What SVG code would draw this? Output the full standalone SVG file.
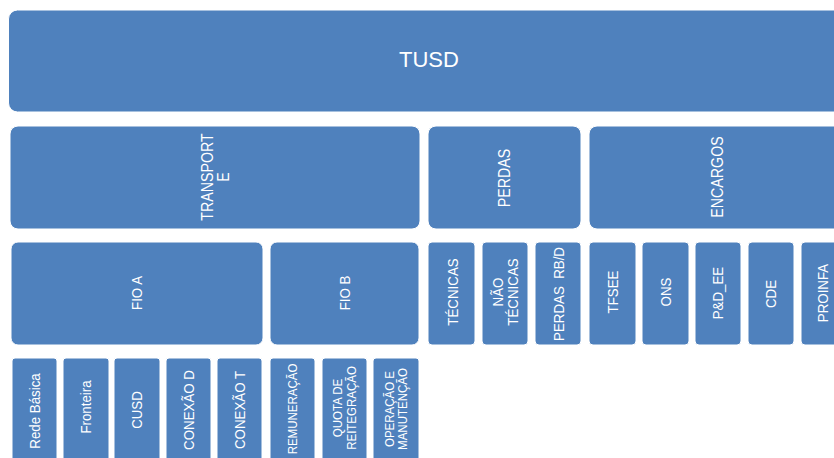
<svg xmlns="http://www.w3.org/2000/svg" width="834" height="458" viewBox="0 0 834 458">
<style>
.b{fill:#4F81BD;stroke:#ffffff;stroke-width:1}
.t{font-family:"Liberation Sans",Arial,sans-serif;fill:#ffffff;text-anchor:middle}
.l{font-size:15.8px}
.m{font-size:14.8px}
.s{font-size:12.8px}
</style>
<rect width="834" height="458" fill="#ffffff"/>
<g id="connectors"></g>
<g id="tusd"><rect class="b" x="8.5" y="10" width="841" height="102" rx="9"/><text class="t" x="429" y="67" font-size="22">TUSD</text></g>

<g id="transporte"><rect class="b" x="10" y="126" width="410" height="103" rx="8"/>
<text class="t l" transform="translate(215,177) rotate(-90) scale(0.9,1)"><tspan x="0" y="-2.5">TRANSPORT</tspan><tspan x="0" y="14">E</tspan></text></g>
<g id="perdas"><rect class="b" x="428" y="126" width="153" height="103" rx="8"/>
<text class="t l" transform="translate(504.5,178) rotate(-90) scale(0.9,1)" y="5.7">PERDAS</text></g>
<g id="encargos"><rect class="b" x="589" y="126" width="256" height="103" rx="8"/>
<text class="t l" transform="translate(717,177) rotate(-90) scale(0.9,1)" y="5.7">ENCARGOS</text></g>

<g id="fioa"><rect class="b" x="11" y="242" width="252" height="103" rx="7"/>
<text class="t m" transform="translate(137,293) rotate(-90) scale(0.9,1)" y="5.3">FIO A</text></g>
<g id="fiob"><rect class="b" x="270" y="242" width="149" height="103" rx="7"/>
<text class="t m" transform="translate(344.5,293) rotate(-90) scale(0.9,1)" y="5.3">FIO B</text></g>
<g id="tecnicas"><rect class="b" x="428" y="242" width="47" height="103" rx="4"/>
<text class="t m" transform="translate(452.5,292) rotate(-90) scale(0.9,1)" y="5.3">TÉCNICAS</text></g>
<g id="naotecnicas"><rect class="b" x="482" y="242" width="46" height="103" rx="4"/>
<text class="t m" transform="translate(505,292) rotate(-90) scale(0.9,1)"><tspan x="0" y="-2">NÃO</tspan><tspan x="0" y="13">TÉCNICAS</tspan></text></g>
<g id="perdasrbd"><rect class="b" x="535" y="242" width="46" height="103" rx="4"/>
<text class="t m" transform="translate(558.5,294) rotate(-90) scale(0.9,1)" y="5.3" xml:space="preserve">PERDAS  RB/D</text></g>
<g id="tfsee"><rect class="b" x="589" y="242" width="47" height="103" rx="4"/>
<text class="t m" transform="translate(612.5,292) rotate(-90) scale(0.9,1)" y="5.3">TFSEE</text></g>
<g id="ons"><rect class="b" x="642" y="242" width="47" height="103" rx="4"/>
<text class="t m" transform="translate(665.5,292) rotate(-90) scale(0.9,1)" y="5.3">ONS</text></g>
<g id="pdee"><rect class="b" x="695" y="242" width="46" height="103" rx="4"/>
<text class="t m" transform="translate(718,293) rotate(-90) scale(0.9,1)" y="5.3">P&amp;D_EE</text></g>
<g id="cde"><rect class="b" x="748" y="242" width="46" height="103" rx="4"/>
<text class="t m" transform="translate(771,294) rotate(-90) scale(0.9,1)" y="5.3">CDE</text></g>
<g id="proinfa"><rect class="b" x="801" y="242" width="46" height="103" rx="4"/>
<text class="t m" transform="translate(822.5,293) rotate(-90) scale(0.9,1)" y="5.3">PROINFA</text></g>

<g id="redebasica"><rect class="b" x="12" y="358" width="45" height="112" rx="3"/>
<text class="t m" transform="translate(35,411) rotate(-90) scale(0.9,1)" y="5.3">Rede Básica</text></g>
<g id="fronteira"><rect class="b" x="63" y="358" width="46" height="112" rx="3"/>
<text class="t m" transform="translate(86,407) rotate(-90) scale(0.9,1)" y="5.3">Fronteira</text></g>
<g id="cusd"><rect class="b" x="114" y="358" width="46" height="112" rx="3"/>
<text class="t m" transform="translate(137,410) rotate(-90) scale(0.9,1)" y="5.3">CUSD</text></g>
<g id="conexaod"><rect class="b" x="166" y="358" width="45" height="112" rx="3"/>
<text class="t m" transform="translate(188.5,410) rotate(-90) scale(0.9,1)" y="5.3">CONEXÃO D</text></g>
<g id="conexaot"><rect class="b" x="217" y="358" width="45" height="112" rx="3"/>
<text class="t m" transform="translate(239.5,410) rotate(-90) scale(0.9,1)" y="5.3">CONEXÃO T</text></g>
<g id="remuneracao"><rect class="b" x="270" y="358" width="45" height="112" rx="3"/>
<text class="t s" transform="translate(292.5,409) rotate(-90) scale(0.9,1)" y="4.6">REMUNERAÇÃO</text></g>
<g id="quota"><rect class="b" x="322" y="358" width="45" height="112" rx="3"/>
<text class="t s" transform="translate(344.5,408) rotate(-90) scale(0.9,1)"><tspan x="0" y="-2.5">QUOTA DE</tspan><tspan x="0" y="12">REITEGRAÇÃO</tspan></text></g>
<g id="operacao"><rect class="b" x="373" y="358" width="46" height="112" rx="3"/>
<text class="t s" transform="translate(395.5,409) rotate(-90) scale(0.9,1)"><tspan x="0" y="-1.5">OPERAÇÃO E</tspan><tspan x="0" y="11">MANUTENÇÃO</tspan></text></g>
</svg>
